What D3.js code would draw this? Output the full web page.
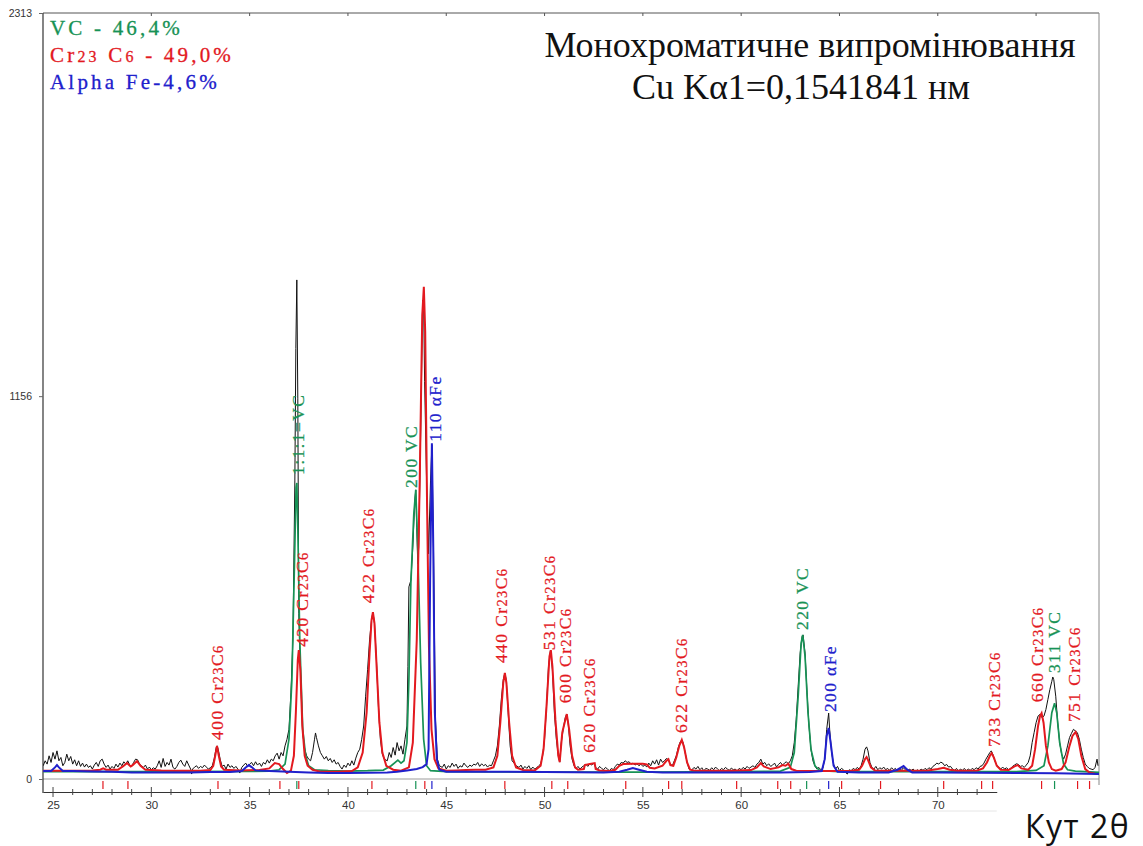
<!DOCTYPE html>
<html><head><meta charset="utf-8">
<script src="https://cdn.jsdelivr.net/npm/d3@7"></script>
<style>body{margin:0;background:#fff}svg{display:block}</style>
</head><body>
<svg id="chart" width="1143" height="846"></svg>
<script>
// ---------- data ----------
const xDomain = [24.49, 78.2];
const yDomain = [0, 2313];
const yTickLabels = [0, 1156, 2313];
const xTickLabels = [25, 30, 35, 40, 45, 50, 55, 60, 65, 70];
const xMinorTicks = [25,26,27,28,29,30,31,32,33,34,35,36,37,38,39,40,41,42,43,44,45,46,47,48,49,50,51,52,53,54,55,56,57,58,59,60,61,62,63,64,65,66,67,68,69,70,71,72];
const topTicks = [30, 35, 40, 45, 50, 55, 60, 65, 70, 75];

const observed = [
[24.5,40],[24.6,55],[24.7,45],[24.8,70],[24.9,50],[25.0,80],[25.1,60],[25.2,85],[25.3,55],[25.4,65],[25.5,40],[25.6,50],[25.7,75],[25.8,55],[25.9,68],[26.0,45],[26.1,58],[26.2,40],[26.3,55],[26.4,38],[26.5,48],[26.6,36],[26.7,45],[26.8,35],[26.9,40],[27.0,30],[27.1,42],[27.2,50],[27.3,38],[27.4,55],[27.5,60],[27.6,45],[27.7,35],[27.8,42],[27.9,30],[28.0,38],[28.1,32],[28.2,45],[28.3,36],[28.4,48],[28.5,40],[28.6,52],[28.7,45],[28.8,55],[28.9,42],[29.0,38],[29.1,50],[29.2,60],[29.3,58],[29.4,45],[29.5,40],[29.6,35],[29.7,42],[29.8,30],[29.9,36],[30.0,28],[30.1,34],[30.2,30],[30.3,40],[30.4,55],[30.5,35],[30.6,62],[30.7,38],[30.8,50],[30.9,42],[31.0,60],[31.1,35],[31.2,30],[31.3,38],[31.4,50],[31.5,57],[31.6,45],[31.7,38],[31.8,55],[31.9,42],[32.0,30],[32.05,15],[32.1,30],[32.2,36],[32.3,40],[32.4,32],[32.5,38],[32.6,34],[32.7,42],[32.8,36],[32.9,30],[33.0,34],[33.1,40],[33.2,62],[33.3,95],[33.35,100],[33.4,90],[33.5,60],[33.6,38],[33.7,42],[33.8,30],[33.9,45],[34.0,35],[34.1,40],[34.2,32],[34.3,38],[34.4,30],[34.5,18],[34.6,35],[34.7,42],[34.8,48],[34.9,38],[35.0,45],[35.1,50],[35.2,40],[35.3,52],[35.4,42],[35.5,48],[35.6,38],[35.7,50],[35.8,45],[35.9,58],[36.0,48],[36.1,60],[36.2,55],[36.3,70],[36.4,78],[36.5,60],[36.6,80],[36.7,70],[36.8,100],[36.9,120],[37.0,150],[37.1,260],[37.2,420],[37.3,900],[37.35,1300],[37.4,1507],[37.45,1150],[37.5,500],[37.55,390],[37.6,300],[37.7,140],[37.8,90],[37.9,70],[38.0,60],[38.1,55],[38.2,80],[38.3,120],[38.35,139],[38.4,125],[38.5,100],[38.6,80],[38.7,70],[38.8,60],[38.9,68],[39.0,55],[39.1,62],[39.2,50],[39.3,58],[39.4,45],[39.5,50],[39.6,38],[39.7,30],[39.8,42],[39.9,35],[40.0,48],[40.1,40],[40.2,55],[40.3,42],[40.4,63],[40.5,80],[40.6,90],[40.7,120],[40.8,160],[40.9,250],[41.0,330],[41.1,420],[41.2,480],[41.27,504],[41.35,470],[41.45,360],[41.55,220],[41.65,120],[41.75,75],[41.85,60],[42.0,55],[42.1,80],[42.2,65],[42.3,95],[42.4,72],[42.5,110],[42.6,85],[42.7,100],[42.8,75],[42.9,120],[43.0,160],[43.05,340],[43.1,580],[43.2,600],[43.3,700],[43.4,840],[43.45,873],[43.5,760],[43.55,650],[43.6,700],[43.7,1050],[43.8,1446],[43.85,1440],[43.9,1200],[44.0,900],[44.1,680],[44.2,900],[44.27,1008],[44.35,700],[44.45,180],[44.55,60],[44.65,40],[44.8,35],[44.9,45],[45.0,30],[45.1,40],[45.2,35],[45.3,48],[45.4,38],[45.5,45],[45.6,32],[45.7,40],[45.8,36],[45.9,48],[46.0,40],[46.1,35],[46.2,42],[46.3,38],[46.4,45],[46.5,42],[46.6,50],[46.7,38],[46.8,46],[46.9,40],[47.0,44],[47.1,36],[47.2,42],[47.3,40],[47.4,55],[47.5,70],[47.6,100],[47.7,160],[47.8,240],[47.9,300],[47.98,320],[48.05,300],[48.15,200],[48.25,100],[48.35,55],[48.45,48],[48.55,40],[48.7,35],[48.8,42],[48.9,30],[49.0,38],[49.1,32],[49.2,40],[49.3,28],[49.4,36],[49.5,30],[49.6,34],[49.7,40],[49.8,45],[49.9,70],[50.0,120],[50.1,220],[50.2,340],[50.3,389],[50.4,330],[50.5,200],[50.6,120],[50.7,70],[50.77,51],[50.85,110],[50.95,150],[51.05,185],[51.13,196],[51.2,170],[51.3,100],[51.4,60],[51.5,40],[51.6,32],[51.7,38],[51.8,30],[51.9,36],[52.0,40],[52.1,45],[52.2,38],[52.3,46],[52.4,42],[52.5,48],[52.6,35],[52.7,30],[52.8,38],[52.9,32],[53.0,28],[53.1,35],[53.2,30],[53.3,25],[53.4,32],[53.5,28],[53.6,38],[53.7,45],[53.8,42],[53.9,50],[54.0,48],[54.1,55],[54.2,50],[54.3,52],[54.4,45],[54.5,48],[54.6,42],[54.7,46],[54.8,40],[54.9,45],[55.0,38],[55.1,42],[55.2,36],[55.3,48],[55.4,40],[55.5,55],[55.6,45],[55.7,58],[55.8,42],[55.9,60],[56.0,50],[56.1,55],[56.2,62],[56.3,58],[56.4,45],[56.5,40],[56.6,55],[56.7,70],[56.8,95],[56.9,112],[56.98,118],[57.05,110],[57.15,80],[57.25,50],[57.35,30],[57.5,28],[57.6,35],[57.7,30],[57.8,38],[57.9,28],[58.0,34],[58.1,24],[58.2,32],[58.3,30],[58.4,26],[58.5,34],[58.6,28],[58.7,36],[58.8,30],[58.9,25],[59.0,32],[59.1,28],[59.2,35],[59.3,30],[59.4,26],[59.5,33],[59.6,28],[59.7,30],[59.8,24],[59.9,32],[60.0,28],[60.1,35],[60.2,30],[60.3,38],[60.4,32],[60.5,36],[60.6,40],[60.7,35],[60.8,45],[60.9,50],[61.0,60],[61.1,45],[61.2,50],[61.3,40],[61.4,46],[61.5,38],[61.6,42],[61.7,48],[61.8,36],[61.9,44],[62.0,50],[62.1,42],[62.2,48],[62.3,52],[62.4,46],[62.5,55],[62.6,70],[62.7,110],[62.8,180],[62.9,280],[63.0,380],[63.1,430],[63.15,435],[63.25,380],[63.35,260],[63.45,160],[63.55,90],[63.65,55],[63.75,40],[63.85,30],[63.95,35],[64.05,28],[64.15,32],[64.25,60],[64.35,150],[64.45,199],[64.5,150],[64.6,80],[64.7,45],[64.8,30],[64.9,38],[65.0,25],[65.1,32],[65.2,28],[65.3,20],[65.4,15],[65.5,28],[65.6,25],[65.7,32],[65.8,28],[65.9,35],[66.0,30],[66.1,40],[66.2,60],[66.3,90],[66.38,97],[66.45,85],[66.55,50],[66.65,35],[66.75,30],[66.85,38],[66.95,28],[67.05,34],[67.15,30],[67.25,36],[67.35,28],[67.45,32],[67.55,26],[67.65,34],[67.75,28],[67.85,32],[67.95,24],[68.05,30],[68.15,26],[68.25,34],[68.35,28],[68.45,22],[68.55,30],[68.65,26],[68.75,30],[68.85,22],[68.95,28],[69.05,24],[69.15,30],[69.25,26],[69.35,32],[69.45,28],[69.55,34],[69.65,30],[69.75,38],[69.85,42],[69.95,48],[70.05,45],[70.15,51],[70.25,48],[70.35,40],[70.45,44],[70.55,36],[70.65,38],[70.75,30],[70.85,26],[70.95,32],[71.05,24],[71.15,30],[71.25,26],[71.35,32],[71.45,25],[71.55,30],[71.65,26],[71.75,32],[71.85,28],[71.95,34],[72.05,30],[72.15,38],[72.25,40],[72.35,48],[72.45,60],[72.55,70],[72.65,80],[72.72,85],[72.8,75],[72.9,55],[73.0,42],[73.1,35],[73.2,30],[73.3,36],[73.4,30],[73.5,34],[73.6,28],[73.7,32],[73.8,38],[73.9,42],[74.0,46],[74.1,44],[74.2,38],[74.3,40],[74.4,35],[74.5,42],[74.6,50],[74.7,70],[74.8,110],[74.9,140],[75.0,170],[75.1,190],[75.2,195],[75.3,185],[75.4,190],[75.5,210],[75.6,240],[75.7,270],[75.8,295],[75.85,308],[75.9,300],[76.0,250],[76.1,170],[76.2,110],[76.3,75],[76.4,60],[76.5,75],[76.6,100],[76.7,125],[76.8,138],[76.9,150],[77.0,145],[77.1,140],[77.2,120],[77.3,90],[77.4,65],[77.5,45],[77.6,38],[77.7,32],[77.8,30],[77.9,28],[78.0,35],[78.1,60],[78.15,40]
];

const cr23c6Calc = [
[24.5,25],[25.0,25],[26.0,25],[27.0,26],[27.4,28],[27.55,32],[27.7,28],[28.3,28],[28.55,38],[28.76,48],[28.95,38],[29.05,42],[29.27,54],[29.45,40],[29.7,28],[30.5,26],[31.5,25],[32.5,25],[33.0,27],[33.15,40],[33.25,70],[33.34,100],[33.43,70],[33.55,38],[33.7,28],[34.5,26],[35.5,27],[36.0,32],[36.28,48],[36.5,45],[36.7,30],[36.9,18],[37.1,25],[37.25,70],[37.35,200],[37.45,360],[37.5,389],[37.58,330],[37.68,160],[37.8,70],[37.95,40],[38.2,28],[38.6,22],[39.5,22],[40.2,24],[40.5,35],[40.75,80],[40.95,200],[41.1,380],[41.2,480],[41.27,504],[41.35,470],[41.45,350],[41.6,170],[41.75,80],[41.95,40],[42.3,28],[42.7,25],[43.1,35],[43.3,110],[43.5,420],[43.65,900],[43.78,1400],[43.86,1486],[43.93,1350],[44.02,850],[44.12,400],[44.25,150],[44.4,60],[44.6,32],[45.0,25],[45.5,26],[46.0,27],[46.5,28],[47.0,28],[47.4,35],[47.6,70],[47.75,170],[47.9,290],[47.98,320],[48.06,290],[48.2,170],[48.35,70],[48.55,35],[48.9,27],[49.5,26],[49.8,40],[49.95,90],[50.1,220],[50.25,370],[50.32,389],[50.4,340],[50.55,180],[50.7,70],[50.77,51],[50.9,140],[50.98,160],[51.13,196],[51.25,150],[51.4,70],[51.55,35],[51.7,28],[52.0,30],[52.05,42],[52.3,45],[52.55,48],[52.6,30],[52.8,26],[53.3,24],[53.6,28],[53.8,40],[54.0,45],[54.5,46],[55.0,46],[55.2,44],[55.35,34],[55.6,32],[56.0,40],[56.2,55],[56.3,60],[56.4,42],[56.55,40],[56.7,65],[56.85,100],[56.98,118],[57.1,95],[57.25,50],[57.4,28],[57.6,26],[58.5,25],[59.5,25],[60.5,27],[60.8,35],[61.0,48],[61.15,38],[61.5,30],[61.9,35],[62.1,42],[62.25,40],[62.4,46],[62.55,30],[62.8,25],[64.0,24],[65.0,24],[65.6,25],[66.0,28],[66.15,40],[66.3,60],[66.38,66],[66.45,58],[66.6,35],[66.8,26],[67.5,25],[68.5,25],[69.5,26],[70.0,30],[70.3,34],[70.6,28],[71.0,25],[72.0,26],[72.3,32],[72.5,50],[72.65,70],[72.74,78],[72.85,65],[73.0,40],[73.2,28],[73.6,27],[73.9,38],[74.06,42],[74.25,32],[74.6,28],[74.8,40],[74.95,90],[75.1,160],[75.2,190],[75.28,199],[75.38,170],[75.5,100],[75.65,50],[75.8,30],[76.0,25],[76.3,30],[76.5,50],[76.7,100],[76.85,130],[77.01,142],[77.15,120],[77.3,70],[77.5,30],[77.7,20],[78.0,16],[78.2,15]
];

const vcCalc = [
[24.5,22],[30.0,22],[35.0,23],[36.0,24],[36.5,28],[36.8,45],[37.0,120],[37.15,300],[37.28,650],[37.36,880],[37.4,894],[37.45,760],[37.55,420],[37.7,150],[37.85,70],[38.0,40],[38.3,28],[39.0,25],[40.0,24],[41.0,25],[41.8,27],[42.2,40],[42.54,57],[42.7,48],[42.85,55],[43.0,110],[43.1,300],[43.2,590],[43.35,800],[43.45,873],[43.55,700],[43.7,350],[43.85,120],[44.0,40],[44.2,25],[45.0,22],[50.0,21],[55.0,21],[60.0,22],[62.0,24],[62.5,35],[62.7,80],[62.9,250],[63.05,410],[63.13,435],[63.25,370],[63.4,200],[63.55,90],[63.75,40],[64.0,25],[65.0,22],[70.0,22],[74.0,22],[75.0,26],[75.4,40],[75.6,100],[75.8,200],[75.94,229],[76.05,200],[76.2,110],[76.4,45],[76.6,28],[77.0,24],[78.2,20]
];

const alphaFeCalc = [
[24.5,24],[24.9,24],[25.1,35],[25.2,42],[25.3,35],[25.5,24],[26.0,24],[27.0,23],[28.0,22],[29.0,20],[30.0,20],[31.0,20],[32.0,20],[33.0,21],[34.0,21],[34.6,24],[34.8,35],[34.96,42],[35.1,36],[35.3,26],[36.0,24],[37.0,22],[38.0,20],[39.0,18],[40.0,18],[41.0,19],[42.0,20],[42.5,22],[43.0,26],[43.5,30],[43.8,36],[44.0,45],[44.1,90],[44.18,600],[44.27,1014],[44.34,700],[44.42,200],[44.52,60],[44.65,28],[45.0,22],[47.0,22],[50.0,21],[53.0,20],[53.8,22],[54.2,28],[54.49,33],[54.8,28],[55.2,22],[56.0,20],[60.0,20],[62.0,20],[63.5,21],[64.1,24],[64.25,60],[64.35,130],[64.45,154],[64.55,110],[64.7,40],[64.9,22],[66.0,20],[67.5,20],[67.95,28],[68.26,39],[68.45,28],[68.7,20],[70.0,20],[72.0,19],[74.0,18],[76.0,17],[78.2,15]
];

// reflection position markers (2θ) for each phase
const cr23c6Marks = [27.54,28.81,33.39,36.54,37.5,41.22,43.91,47.98,50.37,51.18,54.13,56.31,56.98,59.77,61.86,62.52,65.11,67.09,70.3,72.23,72.79,75.28,77.11,77.72];
const vcMarks = [37.4,43.45,63.33,75.94];
const alphaFeMarks = [44.27,64.45];

// peak annotations: [text, phase, 2θ, counts at label foot]
const peakLabels = [
["400 Cr{23}C{6}","cr",33.34,118],
["1:1:1=VC","vc",37.5,918],
["420 Cr{23}C{6}","cr",37.71,399],
["422 Cr{23}C{6}","cr",41.06,531],
["200 VC","vc",43.25,879],
["110 αFe","fe",44.47,1018],
["440 Cr{23}C{6}","cr",47.83,350],
["531 Cr{23}C{6}","cr",50.27,389],
["600 Cr{23}C{6}","cr",51.08,229],
["620 Cr{23}C{6}","cr",52.3,79],
["622 Cr{23}C{6}","cr",56.98,139],
["220 VC","vc",63.13,450],
["200 αFe","fe",64.55,202],
["733 Cr{23}C{6}","cr",72.89,97],
["660 Cr{23}C{6}","cr",75.08,232],
["311 VC","vc",75.94,320],
["751 Cr{23}C{6}","cr",76.96,172]
];

const legendLines = [
["VC - 46,4%","vc"],
["Cr{23} C{6}  - 49,0%","cr"],
["Alpha Fe-4,6%","fe"]
];
const titleLines = ["Монохроматичне випромінювання","Cu Kα1=0,1541841 нм"];
const xAxisTitle = "Кут 2θ";

// ---------- drawing ----------
const colors = {cr:"#e3191f", vc:"#179255", fe:"#2020cc"};
const svg = d3.select("#chart");
const L = 43, R = 1099, T = 13, B = 779;
const x = d3.scaleLinear().domain(xDomain).range([L, R]);
const y = d3.scaleLinear().domain(yDomain).range([B, T]);

svg.append("rect").attr("width",1143).attr("height",846).attr("fill","#fff");

svg.append("defs").append("clipPath").attr("id","plotclip")
  .append("rect").attr("x",L).attr("y",T).attr("width",R-L).attr("height",B-T+2);

// zero line (light gray)
svg.append("line").attr("x1",L).attr("x2",R).attr("y1",y(0)).attr("y2",y(0))
  .attr("stroke","#bdbdbd").attr("stroke-width",1.5);

// frame: top, left, right
svg.append("line").attr("x1",L).attr("x2",R).attr("y1",T).attr("y2",T).attr("stroke","#555").attr("stroke-width",1);
svg.append("line").attr("x1",L).attr("x2",L).attr("y1",T).attr("y2",793).attr("stroke","#333").attr("stroke-width",1.2);
svg.append("line").attr("x1",R).attr("x2",R).attr("y1",T).attr("y2",785).attr("stroke","#888").attr("stroke-width",1);

// top ticks
svg.append("g").selectAll("line").data(topTicks).join("line")
  .attr("x1",d=>x(d)).attr("x2",d=>x(d)).attr("y1",T).attr("y2",T+3).attr("stroke","#555");

// y axis
const yAxis = d3.axisLeft(y).tickValues(yTickLabels).tickSize(4).tickFormat(d3.format("d"));
const gy = svg.append("g").attr("transform",`translate(${L},0)`).call(yAxis);
gy.select(".domain").remove();
gy.selectAll(".tick line").attr("stroke","#666");
gy.selectAll(".tick text").attr("font-family","Liberation Sans, Arial, sans-serif").attr("font-size",10.5).attr("fill","#333").attr("x",-11);

// curves
const line = d3.line().x(d=>x(d[0])).y(d=>y(d[1]));
const plot = svg.append("g").attr("clip-path","url(#plotclip)");
plot.append("path").datum(observed).attr("d",line).attr("fill","none").attr("stroke","#111").attr("stroke-width",1);
plot.append("path").datum(vcCalc).attr("d",line).attr("fill","none").attr("stroke",colors.vc).attr("stroke-width",1.7);
plot.append("path").datum(cr23c6Calc).attr("d",line).attr("fill","none").attr("stroke",colors.cr).attr("stroke-width",2);
plot.append("path").datum(alphaFeCalc).attr("d",line).attr("fill","none").attr("stroke",colors.fe).attr("stroke-width",2);

// reflection markers
const markSets = [[cr23c6Marks,"cr"],[vcMarks,"vc"],[alphaFeMarks,"fe"]];
markSets.forEach(([arr,ph])=>{
  svg.append("g").selectAll("line").data(arr).join("line")
    .attr("x1",d=>x(d)).attr("x2",d=>x(d)).attr("y1",781).attr("y2",789)
    .attr("stroke",colors[ph]).attr("stroke-width",1.2);
});

// x axis (ruler ends before the axis title)
const axisEnd = 73.0;
const xa = x.copy().domain([xDomain[0], axisEnd]).range([L, x(axisEnd)]);
const xAxis = d3.axisBottom(xa).tickValues(xTickLabels).tickSize(0).tickPadding(9).tickFormat(d3.format("d"));
const gx = svg.append("g").attr("transform","translate(0,792)").call(xAxis);
gx.select(".domain").attr("stroke","#333").attr("stroke-width",1);
gx.selectAll(".tick text").attr("font-family","Liberation Sans, Arial, sans-serif").attr("font-size",11.5).attr("fill","#333");
svg.append("g").selectAll("line").data(xMinorTicks).join("line")
  .attr("x1",d=>xa(d)).attr("x2",d=>xa(d))
  .attr("y1",d=>xTickLabels.includes(d)?787:789).attr("y2",d=>xTickLabels.includes(d)?797:795)
  .attr("stroke","#444").attr("stroke-width",1);
svg.append("line").attr("x1",340).attr("x2",xa(axisEnd)).attr("y1",811).attr("y2",811).attr("stroke","#e6e6e6");

// rich text helper: {..} = smaller digits
function rich(sel, str, small){
  str.split(/(\{[^}]+\})/).filter(s=>s.length).forEach(p=>{
    if(p[0]==="{") sel.append("tspan").attr("font-size",small).text(p.slice(1,-1));
    else sel.append("tspan").text(p);
  });
}

// peak labels
peakLabels.forEach(([t,ph,th,c])=>{
  const g = svg.append("g").attr("transform",`translate(${x(th)+5.5},${y(c)}) rotate(-90)`);
  const tx = g.append("text").attr("font-family","Liberation Serif, Times New Roman, serif")
    .attr("font-size",17.5).attr("letter-spacing",1.4).attr("fill",colors[ph])
    .attr("stroke",colors[ph]).attr("stroke-width",0.25);
  rich(tx,t,14.5);
});

// legend
legendLines.forEach(([t,ph],i)=>{
  const tx = svg.append("text").attr("x",50).attr("y",35+i*27)
    .attr("font-family","Liberation Serif, Times New Roman, serif").attr("font-size",21)
    .attr("letter-spacing",3.2).attr("fill",colors[ph])
    .attr("stroke",colors[ph]).attr("stroke-width",0.3);
  rich(tx,t,16);
});

// title
svg.append("text").attr("x",810).attr("y",57).attr("text-anchor","middle")
  .attr("font-family","Liberation Serif, Times New Roman, serif").attr("font-size",36).attr("fill","#111").text(titleLines[0]);
svg.append("text").attr("x",801).attr("y",99).attr("text-anchor","middle")
  .attr("font-family","Liberation Serif, Times New Roman, serif").attr("font-size",36).attr("fill","#111").text(titleLines[1]);

// axis title
svg.append("text").attr("x",1025).attr("y",838).attr("letter-spacing",1.5)
  .attr("font-family","Open Sans, sans-serif").attr("font-size",32).attr("fill","#111").text(xAxisTitle);
</script>
</body></html>
